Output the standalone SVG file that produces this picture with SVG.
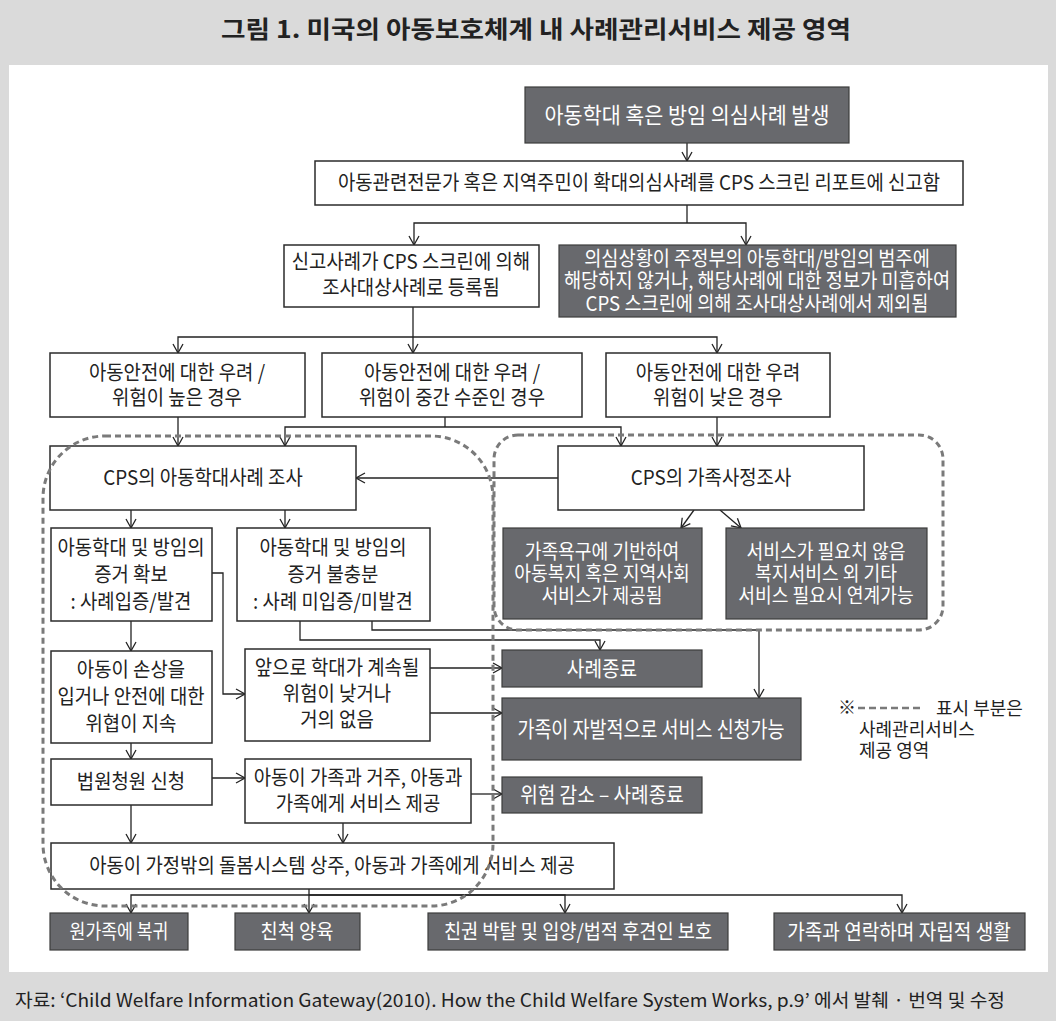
<svg xmlns="http://www.w3.org/2000/svg" width="1056" height="1021" viewBox="0 0 1056 1021">
<defs>
<marker id="ah" viewBox="-10 -6 12 12" refX="0" refY="0" markerWidth="12" markerHeight="12" markerUnits="userSpaceOnUse" orient="auto">
<path d="M-9,-5 L0,0 L-9,5" fill="none" stroke="#222" stroke-width="1.3"/>
</marker>
<style>
text{font-family:"Noto Sans CJK KR","Noto Sans",sans-serif}
.t{font-size:20.5px;fill:#222;text-anchor:middle;transform-box:fill-box;transform-origin:center;transform:scaleX(.92)}
.w{font-size:20px;fill:#fff;text-anchor:middle;transform-box:fill-box;transform-origin:center;transform:scaleX(.91)}
.wb{fill:#fff;stroke:#2b2b2b;stroke-width:1.5}
.db{fill:#68696d;stroke:#3c3c3c;stroke-width:1.2}
.c{fill:none;stroke:#222;stroke-width:1.3;marker-end:url(#ah)}
.s{fill:none;stroke:#222;stroke-width:1.3}
.dash{fill:none;stroke:#7a7a7a;stroke-width:3;stroke-dasharray:6 4}
.lg{font-size:18px;fill:#222}
</style>
</defs>
<rect x="0" y="0" width="1056" height="1021" fill="#dadada"/>
<rect x="9" y="65" width="1039" height="907" fill="#fff"/>
<text x="536" y="38" font-size="24" font-weight="bold" fill="#222" text-anchor="middle" textLength="630" lengthAdjust="spacingAndGlyphs">그림 1. 미국의 아동보호체계 내 사례관리서비스 제공 영역</text>

<g id="connectors">
<path class="c" d="M687,143 V161"/>
<path class="s" d="M687,205 V223"/>
<path class="c" d="M687,223 H414 V245"/>
<path class="c" d="M687,223 H746 V245"/>
<path class="s" d="M413,307 V337"/>
<path class="c" d="M413,337 H178 V353"/>
<path class="c" d="M413,337 V353"/>
<path class="c" d="M413,337 H717 V353"/>
<path class="c" d="M178,417 V446"/>
<path class="s" d="M445,417 V427"/>
<path class="c" d="M445,427 H285 V446"/>
<path class="c" d="M445,427 H621 V446"/>
<path class="c" d="M717,417 V446"/>
<path class="c" d="M558,478 H356"/>
<path class="c" d="M694,510 L681,528"/>
<path class="c" d="M720,510 L741,528"/>
<path class="c" d="M131,510 V528"/>
<path class="c" d="M285,510 V528"/>
<path class="c" d="M212,573 H223 V694 H245"/>
<path class="c" d="M300,621 V640 H600 V650"/>
<path class="c" d="M372,621 V630 H759 V698"/>
<path class="c" d="M131,621 V651"/>
<path class="c" d="M430,668 H502"/>
<path class="c" d="M430,713 H502"/>
<path class="c" d="M131,743 V759"/>
<path class="c" d="M212,778 H245"/>
<path class="c" d="M471,794 H502"/>
<path class="c" d="M131,805 V843"/>
<path class="c" d="M343,823 V843"/>
<path class="s" d="M309,889 V895"/>
<path class="c" d="M309,895 H131 V913"/>
<path class="c" d="M309,895 V913"/>
<path class="c" d="M309,895 H565 V913"/>
<path class="c" d="M309,895 H902 V913"/>
</g>

<g id="n1"><rect class="db" x="525" y="87" width="324" height="56"/><text class="w" x="687" y="123" style="font-size:22px;transform:scaleX(.94)">아동학대 혹은 방임 의심사례 발생</text></g>
<g id="n2"><rect class="wb" x="315" y="161" width="648" height="44"/><text class="t" x="639" y="190">아동관련전문가 혹은 지역주민이 확대의심사례를 CPS 스크린 리포트에 신고함</text></g>
<g id="n3"><rect class="wb" x="284" y="245" width="255" height="62"/><text class="t" x="411" y="269"><tspan x="411">신고사례가 CPS 스크린에 의해</tspan><tspan x="411" dy="26">조사대상사례로 등록됨</tspan></text></g>
<g id="n4"><rect class="db" x="559" y="245" width="397" height="72"/><text class="w" x="757" y="266" style="font-size:20.5px"><tspan x="757">의심상황이 주정부의 아동학대/방임의 범주에</tspan><tspan x="757" dy="22.5">해당하지 않거나, 해당사례에 대한 정보가 미흡하여</tspan><tspan x="757" dy="22.5">CPS 스크린에 의해 조사대상사례에서 제외됨</tspan></text></g>
<g id="n5"><rect class="wb" x="50" y="353" width="255" height="64"/><text class="t" x="177" y="380"><tspan x="177">아동안전에 대한 우려 /</tspan><tspan x="177" dy="25">위험이 높은 경우</tspan></text></g>
<g id="n6"><rect class="wb" x="322" y="353" width="260" height="64"/><text class="t" x="452" y="380"><tspan x="452">아동안전에 대한 우려 /</tspan><tspan x="452" dy="25">위험이 중간 수준인 경우</tspan></text></g>
<g id="n7"><rect class="wb" x="606" y="353" width="224" height="64"/><text class="t" x="718" y="380"><tspan x="718">아동안전에 대한 우려</tspan><tspan x="718" dy="25">위험이 낮은 경우</tspan></text></g>
<g id="n8"><rect class="wb" x="50" y="446" width="306" height="64"/><text class="t" x="203" y="485">CPS의 아동학대사례 조사</text></g>
<g id="n9"><rect class="wb" x="558" y="446" width="306" height="64"/><text class="t" x="711" y="485">CPS의 가족사정조사</text></g>
<g id="n10"><rect class="db" x="503" y="528" width="199" height="91"/><text class="w" x="602" y="559"><tspan x="602">가족욕구에 기반하여</tspan><tspan x="602" dy="22">아동복지 혹은 지역사회</tspan><tspan x="602" dy="22">서비스가 제공됨</tspan></text></g>
<g id="n11"><rect class="db" x="726" y="528" width="201" height="91"/><text class="w" x="826" y="559"><tspan x="826">서비스가 필요치 않음</tspan><tspan x="826" dy="22">복지서비스 외 기타</tspan><tspan x="826" dy="22">서비스 필요시 연계가능</tspan></text></g>
<g id="n12"><rect class="wb" x="51" y="528" width="161" height="93"/><text class="t" x="131" y="555"><tspan x="131">아동학대 및 방임의</tspan><tspan x="131" dy="27">증거 확보</tspan><tspan x="131" dy="27">: 사례입증/발견</tspan></text></g>
<g id="n13"><rect class="wb" x="237" y="528" width="193" height="93"/><text class="t" x="333" y="555"><tspan x="333">아동학대 및 방임의</tspan><tspan x="333" dy="27">증거 불충분</tspan><tspan x="333" dy="27">: 사례 미입증/미발견</tspan></text></g>
<g id="n14"><rect class="wb" x="51" y="651" width="161" height="92"/><text class="t" x="131" y="677"><tspan x="131">아동이 손상을</tspan><tspan x="131" dy="27">입거나 안전에 대한</tspan><tspan x="131" dy="27">위협이 지속</tspan></text></g>
<g id="n15"><rect class="wb" x="245" y="649" width="185" height="92"/><text class="t" x="337" y="675"><tspan x="337">앞으로 학대가 계속될</tspan><tspan x="337" dy="26">위험이 낮거나</tspan><tspan x="337" dy="26">거의 없음</tspan></text></g>
<g id="n16"><rect class="db" x="502" y="650" width="200" height="37"/><text class="w" x="602" y="676" style="font-size:21px">사례종료</text></g>
<g id="n17"><rect class="db" x="502" y="698" width="299" height="62"/><text class="w" x="651" y="737" style="font-size:22px;transform:scaleX(.84)">가족이 자발적으로 서비스 신청가능</text></g>
<g id="n18"><rect class="db" x="502" y="777" width="200" height="36"/><text class="w" x="602" y="802" style="font-size:21px">위험 감소 – 사례종료</text></g>
<g id="n19"><rect class="wb" x="51" y="759" width="161" height="46"/><text class="t" x="131" y="789">법원청원 신청</text></g>
<g id="n20"><rect class="wb" x="245" y="759" width="226" height="64"/><text class="t" x="358" y="785"><tspan x="358">아동이 가족과 거주, 아동과</tspan><tspan x="358" dy="26">가족에게 서비스 제공</tspan></text></g>
<g id="n21"><rect class="wb" x="51" y="843" width="563" height="46"/><text class="t" x="332" y="873">아동이 가정밖의 돌봄시스템 상주, 아동과 가족에게 서비스 제공</text></g>
<g id="b1"><rect class="db" x="50" y="913" width="138" height="37"/><text class="w" x="119" y="939" style="font-size:20px;transform:scaleX(.86)">원가족에 복귀</text></g>
<g id="b2"><rect class="db" x="235" y="913" width="125" height="37"/><text class="w" x="297" y="939" style="font-size:20.5px">친척 양육</text></g>
<g id="b3"><rect class="db" x="428" y="913" width="300" height="37"/><text class="w" x="578" y="939" style="font-size:20.5px">친권 박탈 및 입양/법적 후견인 보호</text></g>
<g id="b4"><rect class="db" x="774" y="913" width="251" height="37"/><text class="w" x="899" y="939" style="font-size:21px">가족과 연락하며 자립적 생활</text></g>

<g id="regions">
<rect class="dash" x="43" y="436" width="450" height="470" rx="62"/>
<rect class="dash" x="494" y="435" width="449" height="195" rx="24"/>
</g>

<g id="legend">
<text class="lg" x="838" y="714" font-size="14">※</text>
<line x1="858" y1="708" x2="924" y2="708" stroke="#7a7a7a" stroke-width="2.5" stroke-dasharray="7 4"/>
<text class="lg" x="936" y="715">표시 부분은</text>
<text class="lg" x="859" y="736">사례관리서비스</text>
<text class="lg" x="859" y="757">제공 영역</text>
</g>

<text x="15" y="1007" font-size="18" fill="#222" textLength="990" lengthAdjust="spacingAndGlyphs">자료: ‘Child Welfare Information Gateway(2010). How the Child Welfare System Works, p.9’ 에서 발췌 · 번역 및 수정</text>
</svg>
